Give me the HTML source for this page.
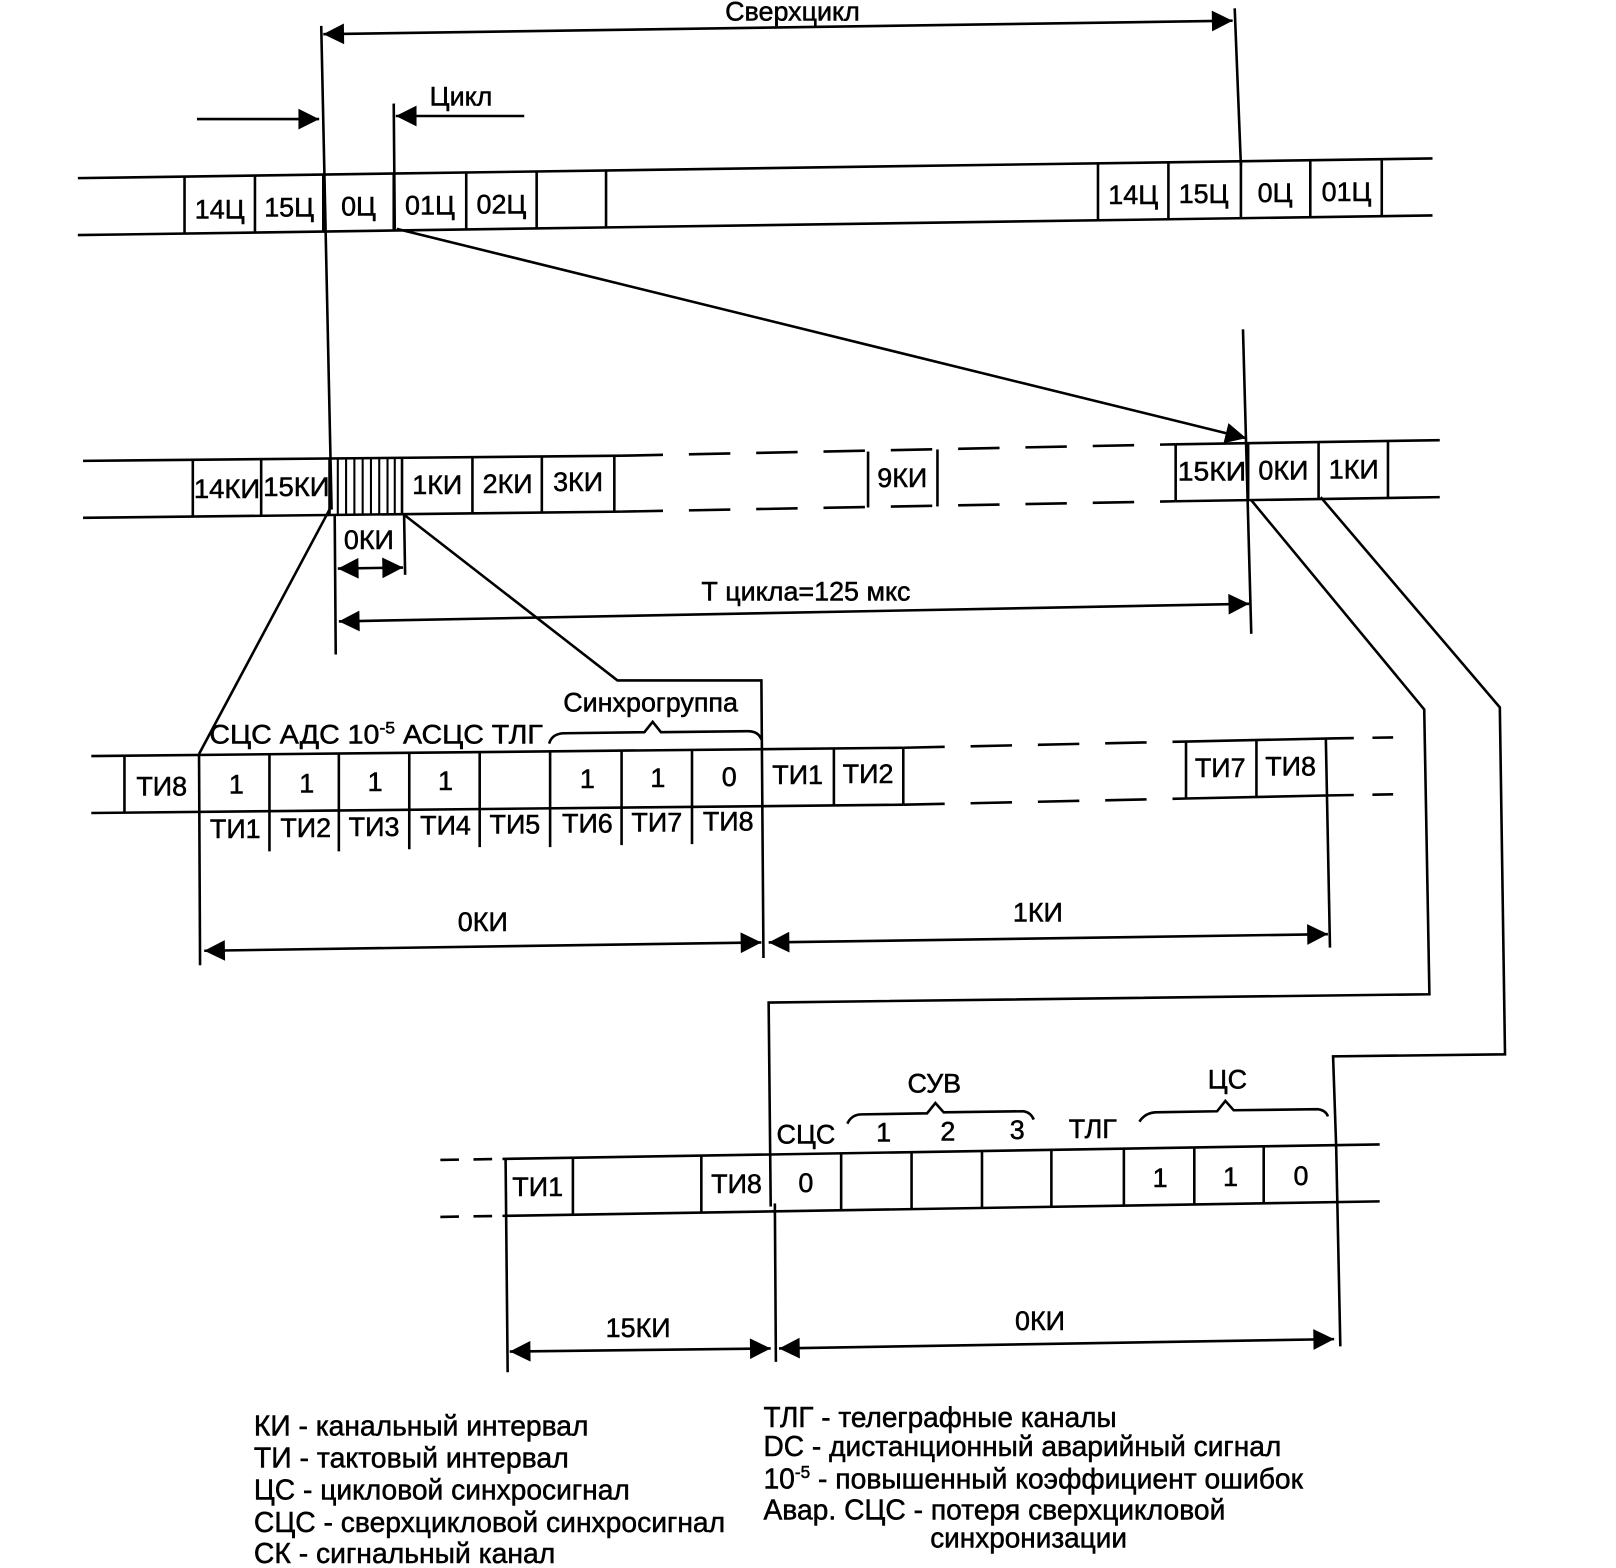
<!DOCTYPE html>
<html><head><meta charset="utf-8"><style>
html,body{margin:0;padding:0;background:#fff;}
svg{display:block;}
text{font-family:"Liberation Sans",sans-serif;fill:#000;stroke:#000;stroke-width:0.5;}
</style></head><body>
<svg width="1616" height="1568" viewBox="0 0 1560 1514" xmlns="http://www.w3.org/2000/svg">
<defs>
<marker id="b" viewBox="0 0 10 10" refX="10" refY="5" markerWidth="32" markerHeight="20" markerUnits="userSpaceOnUse" orient="auto-start-reverse"><path d="M0,0 L10,5 L0,10z" fill="#000"/></marker>
</defs>
<g stroke="#000" stroke-width="2.5" fill="none">
<line x1="312" y1="33" x2="1190" y2="20" marker-start="url(#b)" marker-end="url(#b)"/>
<line x1="1192" y1="8" x2="1198" y2="160"/>
<line x1="310" y1="25" x2="320" y2="492"/>
<line x1="190" y1="115" x2="308" y2="115" marker-end="url(#b)"/>
<line x1="506" y1="112" x2="382" y2="112" marker-end="url(#b)"/>
<line x1="380" y1="100" x2="381" y2="222"/>
<line x1="75" y1="172" x2="1383" y2="153"/>
<line x1="75" y1="227" x2="1383" y2="208"/>
<g>
<line x1="178" y1="170" x2="178" y2="225"/><line x1="246" y1="169" x2="246" y2="224"/>
<line x1="312" y1="168" x2="312" y2="223"/><line x1="380" y1="167" x2="380" y2="222"/>
<line x1="450" y1="166" x2="450" y2="221"/><line x1="518" y1="165" x2="518" y2="220"/>
<line x1="585" y1="164" x2="585" y2="219"/>
<line x1="1060" y1="158" x2="1060" y2="213"/><line x1="1128" y1="157" x2="1128" y2="212"/>
<line x1="1198" y1="156" x2="1198" y2="211"/><line x1="1265" y1="155" x2="1265" y2="210"/>
<line x1="1334" y1="154" x2="1334" y2="209"/>
</g>
<line x1="383" y1="221" x2="1203" y2="423" marker-end="url(#b)"/>
<line x1="1200" y1="318" x2="1208" y2="612"/>
<line x1="80" y1="445" x2="600" y2="440"/>
<line x1="600" y1="440" x2="1135" y2="429" stroke-dasharray="40 25"/>
<line x1="1135" y1="429" x2="1390" y2="425"/>
<line x1="80" y1="500" x2="600" y2="494"/>
<line x1="600" y1="494" x2="1135" y2="484" stroke-dasharray="40 25"/>
<line x1="1135" y1="484" x2="1390" y2="480"/>
<line x1="186" y1="444" x2="186" y2="499"/><line x1="252" y1="443" x2="252" y2="498"/>
<line x1="318" y1="443" x2="318" y2="497"/><line x1="388" y1="442" x2="388" y2="496"/>
<line x1="456" y1="441" x2="456" y2="496"/><line x1="523" y1="441" x2="523" y2="495"/>
<line x1="593" y1="440" x2="593" y2="494"/>
<line x1="838" y1="436" x2="838" y2="490"/><line x1="905" y1="434" x2="905" y2="489"/>
<line x1="1135" y1="429" x2="1135" y2="484"/><line x1="1205" y1="428" x2="1205" y2="483"/>
<line x1="1273" y1="427" x2="1273" y2="482"/><line x1="1340" y1="426" x2="1340" y2="481"/>
<g stroke-width="2">
<line x1="326" y1="443" x2="326" y2="497"/><line x1="334" y1="443" x2="334" y2="497"/>
<line x1="342" y1="443" x2="342" y2="497"/><line x1="350" y1="443" x2="350" y2="497"/>
<line x1="358" y1="442" x2="358" y2="496"/><line x1="366" y1="442" x2="366" y2="496"/>
<line x1="374" y1="442" x2="374" y2="496"/><line x1="381" y1="442" x2="381" y2="496"/>
</g>
<line x1="323" y1="497" x2="324" y2="632"/>
<line x1="390" y1="497" x2="391" y2="555"/>
<line x1="326" y1="549" x2="389" y2="548" marker-start="url(#b)" marker-end="url(#b)"/>
<line x1="327" y1="600" x2="1206" y2="583" marker-start="url(#b)" marker-end="url(#b)"/>
<line x1="318" y1="492" x2="192" y2="728"/>
<polyline points="390,497 596,657 735,657 737,925"/>
<line x1="88" y1="730" x2="872" y2="722"/>
<line x1="872" y1="722" x2="1145" y2="716" stroke-dasharray="40 25"/>
<line x1="1145" y1="716" x2="1285" y2="713"/>
<line x1="1285" y1="713" x2="1345" y2="712" stroke-dasharray="22 18"/>
<line x1="88" y1="785" x2="872" y2="777"/>
<line x1="872" y1="777" x2="1145" y2="771" stroke-dasharray="40 25"/>
<line x1="1145" y1="771" x2="1285" y2="768"/>
<line x1="1285" y1="768" x2="1345" y2="767" stroke-dasharray="22 18"/>
<line x1="120" y1="730" x2="120" y2="785"/>
<line x1="192" y1="728" x2="193" y2="932"/>
<line x1="260" y1="728" x2="260" y2="822"/><line x1="327" y1="727" x2="327" y2="822"/>
<line x1="395" y1="727" x2="395" y2="820"/><line x1="463" y1="726" x2="463" y2="818"/>
<line x1="531" y1="725" x2="531" y2="818"/><line x1="600" y1="725" x2="600" y2="816"/>
<line x1="668" y1="724" x2="668" y2="815"/>
<line x1="805" y1="723" x2="805" y2="777"/><line x1="872" y1="722" x2="872" y2="777"/>
<line x1="1145" y1="716" x2="1145" y2="771"/><line x1="1213" y1="715" x2="1213" y2="770"/>
<line x1="1280" y1="713" x2="1284" y2="915"/>
<path d="M530,718 Q533,708 545,708 L622,707 L630,697 L638,707 L722,706 Q732,706 735,714"/>
<line x1="197" y1="918" x2="735" y2="910" marker-start="url(#b)" marker-end="url(#b)"/>
<line x1="742" y1="910" x2="1282" y2="902" marker-start="url(#b)" marker-end="url(#b)"/>
<polyline points="1208,483 1375,685 1380,960 742,968 744,1165"/>
<polyline points="1275,480 1448,683 1453,1018 1287,1020 1290,1108"/>
<line x1="425" y1="1120" x2="485" y2="1119" stroke-dasharray="18 14"/>
<line x1="485" y1="1119" x2="1332" y2="1105"/>
<line x1="425" y1="1175" x2="485" y2="1174" stroke-dasharray="18 14"/>
<line x1="485" y1="1174" x2="1332" y2="1160"/>
<line x1="553" y1="1118" x2="553" y2="1173"/><line x1="677" y1="1116" x2="677" y2="1171"/>
<line x1="812" y1="1114" x2="812" y2="1169"/><line x1="880" y1="1113" x2="880" y2="1168"/>
<line x1="948" y1="1112" x2="948" y2="1167"/><line x1="1015" y1="1111" x2="1015" y2="1166"/>
<line x1="1085" y1="1110" x2="1085" y2="1164"/><line x1="1153" y1="1109" x2="1153" y2="1163"/>
<line x1="1220" y1="1108" x2="1220" y2="1162"/>
<line x1="488" y1="1119" x2="490" y2="1325"/>
<line x1="748" y1="1162" x2="749" y2="1315"/>
<line x1="1290" y1="1108" x2="1294" y2="1300"/>
<path d="M818,1085 Q822,1076 832,1076 L895,1075 L903,1065 L911,1074 L988,1073 Q995,1074 998,1081"/>
<path d="M1100,1083 Q1105,1075 1115,1074 L1175,1073 L1183,1063 L1191,1072 L1272,1071 Q1280,1072 1282,1078"/>
<line x1="492" y1="1305" x2="744" y2="1302" marker-start="url(#b)" marker-end="url(#b)"/>
<line x1="752" y1="1302" x2="1288" y2="1293" marker-start="url(#b)" marker-end="url(#b)"/>
</g>
<g font-size="26" text-anchor="middle">
<text x="765" y="20">Сверхцикл</text>
<text x="445" y="102">Цикл</text>
<text x="212" y="211">14Ц</text><text x="279" y="209">15Ц</text><text x="346" y="208">0Ц</text>
<text x="415" y="207">01Ц</text><text x="484" y="206">02Ц</text>
<text x="1094" y="197">14Ц</text><text x="1162" y="196">15Ц</text><text x="1231" y="195">0Ц</text><text x="1300" y="194">01Ц</text>
<text x="219" y="481" textLength="64" lengthAdjust="spacingAndGlyphs">14КИ</text><text x="286" y="479" textLength="64" lengthAdjust="spacingAndGlyphs">15КИ</text><text x="422" y="477">1КИ</text>
<text x="490" y="476">2КИ</text><text x="558" y="474">3КИ</text><text x="871" y="470">9КИ</text>
<text x="1170" y="464" textLength="66" lengthAdjust="spacingAndGlyphs">15КИ</text><text x="1239" y="463">0КИ</text><text x="1307" y="462">1КИ</text>
<text x="356" y="530">0КИ</text>
<text x="778" y="580">Т цикла=125 мкс</text>
<text x="628" y="687">Синхрогруппа</text>
<text x="156" y="768">ТИ8</text>
<text x="228" y="766">1</text><text x="296" y="765">1</text><text x="362" y="764">1</text><text x="430" y="763">1</text>
<text x="567" y="761">1</text><text x="635" y="760">1</text><text x="704" y="759">0</text>
<text x="770" y="757">ТИ1</text><text x="838" y="756">ТИ2</text><text x="1178" y="750">ТИ7</text><text x="1246" y="749">ТИ8</text>
<text x="227" y="809">ТИ1</text><text x="295" y="808">ТИ2</text><text x="361" y="807">ТИ3</text><text x="430" y="806">ТИ4</text>
<text x="497" y="805">ТИ5</text><text x="567" y="804">ТИ6</text><text x="634" y="803">ТИ7</text><text x="703" y="802">ТИ8</text>
<text x="466" y="899">0КИ</text><text x="1002" y="890">1КИ</text>
<text x="902" y="1055">СУВ</text><text x="1185" y="1051">ЦС</text>
<text x="853" y="1102">1</text><text x="915" y="1101">2</text><text x="982" y="1100">3</text>
<text x="1055" y="1099">ТЛГ</text><text x="778" y="1104">СЦС</text>
<text x="519" y="1155">ТИ1</text><text x="711" y="1152">ТИ8</text><text x="778" y="1151">0</text>
<text x="1120" y="1146">1</text><text x="1188" y="1145">1</text><text x="1256" y="1144">0</text>
<text x="616" y="1291">15КИ</text><text x="1004" y="1284">0КИ</text>
</g>
<text x="202" y="718" font-size="26" textLength="322" lengthAdjust="spacingAndGlyphs">СЦС АДС  10<tspan font-size="16" dy="-10">-5</tspan><tspan dy="10"> АСЦС ТЛГ</tspan></text>
<g font-size="28" lengthAdjust="spacingAndGlyphs">
<text x="245" y="1386" textLength="323" lengthAdjust="spacingAndGlyphs">КИ - канальный интервал</text>
<text x="245" y="1417" textLength="304" lengthAdjust="spacingAndGlyphs">ТИ - тактовый интервал</text>
<text x="245" y="1448" textLength="363" lengthAdjust="spacingAndGlyphs">ЦС - цикловой синхросигнал</text>
<text x="245" y="1479" textLength="455" lengthAdjust="spacingAndGlyphs">СЦС - сверхцикловой синхросигнал</text>
<text x="245" y="1509" textLength="291" lengthAdjust="spacingAndGlyphs">СК - сигнальный канал</text>
<text x="737" y="1378" textLength="341" lengthAdjust="spacingAndGlyphs">ТЛГ - телеграфные каналы</text>
<text x="737" y="1406" textLength="500" lengthAdjust="spacingAndGlyphs">DC - дистанционный аварийный сигнал</text>
<text x="737" y="1437" textLength="521" lengthAdjust="spacingAndGlyphs">10<tspan font-size="17" dy="-10">-5</tspan><tspan dy="10"> - повышенный коэффициент ошибок</tspan></text>
<text x="737" y="1467" textLength="446" lengthAdjust="spacingAndGlyphs">Авар. СЦС - потеря сверхцикловой</text>
<text x="898" y="1494" textLength="190" lengthAdjust="spacingAndGlyphs">синхронизации</text>
</g>
</svg>
</body></html>
